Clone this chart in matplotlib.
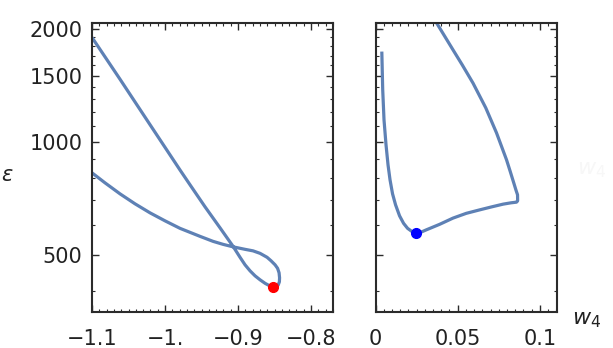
import matplotlib
matplotlib.use("Agg")
import matplotlib.pyplot as plt
from matplotlib.ticker import FixedLocator, NullFormatter

# Left panel curve (w4 < 0): from (-1.1, high) down to the red point, loop, back to -1.1
left_w4 = [-1.1, -1.06164, -1.02055, -0.97945, -0.96575, -0.94521, -0.92466, -0.90685,
           -0.89726, -0.89041, -0.88356, -0.87671, -0.86986, -0.86301, -0.85753, -0.85247,
           -0.84863, -0.84521, -0.84342, -0.84315, -0.84384, -0.84589, -0.84932, -0.85479,
           -0.86027, -0.86986, -0.87945, -0.89041, -0.90685, -0.92055, -0.93425, -0.95205,
           -0.97945, -1.0, -1.02055, -1.04110, -1.06164, -1.08219, -1.1]
left_eps = [1900, 1470, 1112, 841.7, 768.6, 671.4, 590.1, 526.8,
            492.4, 470.2, 453.2, 439.5, 428.9, 419.8, 414.2, 410.9,
            410.9, 414.7, 423.7, 434.2, 447.8, 460.3, 470.3, 482.0,
            492.5, 504.6, 512.4, 517.2, 525.2, 533.3, 543.2, 560.1,
            588.3, 616.1, 647.1, 684.0, 727.2, 778.0, 827.4]
left_point = (-0.85247, 410.9)

# Right panel curve (w4 > 0)
right_w4 = [0.003841, 0.00439, 0.00518, 0.0064, 0.00762, 0.00884, 0.01037, 0.0122, 0.01463,
            0.01707, 0.01951, 0.02226, 0.02482, 0.02744, 0.03092, 0.03902, 0.04713, 0.05518,
            0.06341, 0.07073, 0.07762, 0.08232, 0.08579, 0.08646, 0.0864, 0.08549, 0.08390,
            0.08183, 0.07970, 0.07360, 0.06707, 0.05933, 0.05274, 0.04713, 0.03701, 0.03598]
right_eps = [1742, 1377, 1145, 982.4, 868.9, 792.4, 727.2, 679.8, 635.4,
             606.8, 588.4, 576.6, 571.3, 574.1, 583.0, 603.1, 626.5, 645.1,
             659.1, 671.4, 682.6, 688.1, 691.0, 696.6, 722.8, 743.0, 782.9,
             837.5, 896.2, 1057.6, 1233, 1435, 1606, 1761, 2082, 2117]
right_point = (0.02482, 571.3)

left_xticks = [-1.1, -1.0, -0.9, -0.8]
left_xlabels = ["\u22121.1", "\u22121.", "\u22120.9", "\u22120.8"]
right_xticks = [0.0, 0.05, 0.1]
right_xlabels = ["0", "0.05", "0.1"]
yticks = [500, 1000, 1500, 2000]
ylabels = ["500", "1000", "1500", "2000"]

line_color = "#5E81B5"
spine_color = "#2b2b2b"
fs = 15

fig = plt.figure(figsize=(6.13, 3.48), dpi=100)
axL = fig.add_axes([92/613, 36/348, 241/613, 289.3/348])
axR = fig.add_axes([375.5/613, 36/348, 181.5/613, 289.3/348])

ylim = (352, 2080)

def style(ax, xlim, xticks, xlabels, minor_step, show_y):
    ax.set_yscale("log")
    ax.set_xlim(*xlim)
    ax.set_ylim(*ylim)
    ax.set_xticks(xticks)
    ax.set_xticklabels(xlabels)
    n0 = int(round(xlim[0] / minor_step)) - 1
    n1 = int(round(xlim[1] / minor_step)) + 1
    ax.xaxis.set_minor_locator(FixedLocator([k * minor_step for k in range(n0, n1 + 1)]))
    ax.yaxis.set_major_locator(FixedLocator(yticks))
    ax.yaxis.set_minor_locator(FixedLocator(list(range(300, 2200, 100))))
    ax.yaxis.set_minor_formatter(NullFormatter())
    if show_y:
        ax.set_yticklabels(ylabels)
    else:
        ax.set_yticklabels([])
    ax.tick_params(which="both", direction="in", top=True, right=True,
                   color=spine_color, labelsize=fs, labelcolor="#222222")
    ax.tick_params(which="major", length=5, width=1.0)
    ax.tick_params(which="minor", length=2.5, width=0.8)
    ax.tick_params(axis="x", which="major", pad=12)
    ax.tick_params(axis="y", which="major", pad=7)
    for s in ax.spines.values():
        s.set_color(spine_color)
        s.set_linewidth(1.5)

axL.plot(left_w4, left_eps, color=line_color, lw=2.3, solid_joinstyle="round",
         solid_capstyle="butt", zorder=2)
axL.plot([left_point[0]], [left_point[1]], "o", color="#ff0000", ms=7, zorder=3)
style(axL, (-1.1, -0.77), left_xticks, left_xlabels, 0.01, True)

axR.plot(right_w4, right_eps, color=line_color, lw=2.3, solid_joinstyle="round",
         solid_capstyle="butt", zorder=2)
axR.plot([right_point[0]], [right_point[1]], "o", color="#0000ff", ms=7, zorder=3)
style(axR, (0.0, 0.1104), right_xticks, right_xlabels, 0.005, False)

fig.text(7/613, 1 - 175/348, "\u03b5", fontsize=fs, style="italic", ha="center", va="center",
         color="#222222")
fig.text(587/613, 1 - 320/348, r"$w_4$", fontsize=fs + 1, ha="center", va="center",
         color="#222222")
fig.text(592/613, 1 - 170/348, r"$w_4$", fontsize=fs + 1, ha="center", va="center",
         color="#f7f7f7")

fig.savefig("out.png", dpi=100)
